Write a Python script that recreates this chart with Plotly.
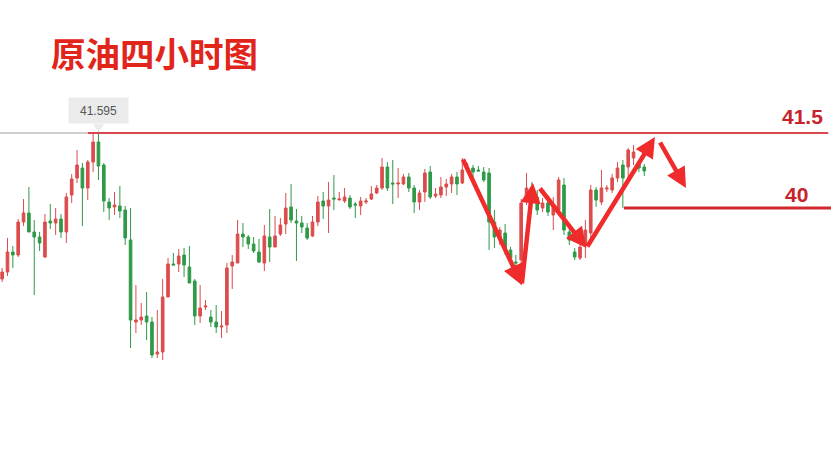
import plotly.graph_objects as go

# ---- data (4-hour crude oil candles) ----
idx = list(range(121))
opens = [38.64, 38.78, 39.18, 39.12, 39.78, 39.96, 39.58, 39.48, 39.08, 39.80,
         39.76, 39.84, 39.58, 40.32, 40.66, 40.86, 40.46, 40.98, 41.38, 40.92,
         40.18, 40.08, 40.10, 40.02, 39.42, 37.78, 37.82, 37.90, 37.78, 37.14,
         37.18, 38.28, 38.94, 38.94, 39.12, 38.88, 38.60, 37.90, 38.08, 37.88,
         37.78, 37.68, 37.72, 38.90, 38.96, 39.54, 39.48, 39.34, 39.18, 38.96,
         39.48, 39.28, 39.54, 39.74, 40.08, 39.80, 39.76, 39.66, 39.50, 39.78,
         40.20, 40.10, 40.26, 40.22, 40.20, 40.26, 40.14, 40.10, 40.18, 40.24,
         40.36, 40.46, 40.88, 40.56, 40.54, 40.54, 40.68, 40.46, 40.18, 40.38,
         40.78, 40.30, 40.32, 40.48, 40.54, 40.68, 40.56, 40.84, 40.86, 40.82,
         40.78, 40.76, 39.78, 39.46, 39.56, 39.22, 38.98, 39.02, 40.22, 40.46,
         40.28, 40.06, 40.16, 39.92, 40.02, 40.52, 39.58, 39.18, 39.06, 39.32,
         39.56, 40.42, 40.18, 40.44, 40.42, 40.66, 40.92, 40.88, 41.06, 40.96,
         40.88]
highs = [38.86, 39.46, 39.30, 39.84, 40.24, 40.48, 39.82, 39.58, 39.94, 40.14,
         40.06, 39.94, 40.36, 40.74, 41.22, 40.96, 41.02, 41.56, 41.595, 40.96,
         40.26, 40.38, 40.50, 40.10, 40.06, 38.52, 38.16, 38.38, 37.88, 38.02,
         38.64, 39.06, 39.16, 39.24, 39.26, 39.30, 38.64, 38.52, 38.22, 38.02,
         38.12, 38.00, 38.96, 39.12, 39.82, 39.76, 39.52, 39.48, 39.44, 39.72,
         40.04, 39.90, 39.86, 40.36, 40.54, 40.04, 39.90, 39.76, 39.90, 40.30,
         40.38, 40.58, 40.72, 40.38, 40.46, 40.32, 40.18, 40.28, 40.26, 40.50,
         40.52, 41.06, 40.98, 41.02, 40.86, 40.74, 40.76, 40.52, 40.42, 40.84,
         40.90, 40.46, 40.68, 40.64, 40.74, 40.78, 41.06, 40.96, 40.92, 40.90,
         40.88, 40.86, 40.02, 39.68, 39.74, 39.28, 39.12, 40.24, 40.76, 40.58,
         40.42, 40.26, 40.32, 40.28, 40.68, 40.66, 39.66, 39.26, 39.42, 39.82,
         40.52, 40.48, 40.82, 40.52, 40.74, 40.98, 41.02, 41.26, 41.32, 41.02,
         40.94]
lows = [38.58, 38.70, 38.86, 39.08, 39.70, 39.58, 38.32, 39.20, 39.06, 39.64,
        39.52, 39.46, 39.36, 40.16, 40.56, 39.70, 40.22, 40.78, 40.62, 39.98,
        39.82, 39.92, 39.86, 39.32, 37.26, 37.56, 37.72, 37.42, 37.06, 37.06,
        37.02, 38.28, 38.92, 38.78, 38.68, 38.56, 37.72, 37.76, 38.02, 37.68,
        37.56, 37.46, 37.56, 38.44, 38.96, 39.28, 39.24, 39.16, 38.96, 38.80,
        38.98, 39.28, 39.50, 39.54, 39.76, 39.00, 39.56, 39.42, 39.48, 39.70,
        39.84, 39.56, 40.02, 40.22, 40.16, 40.04, 39.86, 39.92, 40.14, 40.22,
        40.34, 40.42, 40.40, 40.14, 40.26, 40.52, 40.38, 39.96, 40.02, 40.18,
        40.24, 40.26, 40.26, 40.30, 40.36, 40.32, 40.54, 40.82, 40.68, 40.80,
        40.58, 39.22, 39.26, 39.32, 39.12, 38.98, 38.62, 38.52, 40.12, 40.22,
        39.92, 39.98, 39.90, 39.62, 39.98, 39.52, 39.32, 39.02, 39.02, 39.06,
        39.42, 40.08, 40.12, 40.38, 40.36, 40.58, 40.06, 40.56, 40.92, 40.78,
        40.70]
closes = [38.78, 39.18, 39.12, 39.78, 39.96, 39.58, 39.48, 39.36, 39.78, 39.76,
          39.84, 39.58, 40.28, 40.64, 40.92, 40.46, 40.98, 41.38, 40.90, 40.20,
          40.06, 40.12, 40.00, 39.46, 37.82, 37.82, 37.88, 37.78, 37.12, 37.18,
          38.28, 38.94, 38.92, 39.10, 38.92, 38.56, 37.90, 38.06, 38.10, 37.78,
          37.68, 37.70, 38.86, 38.98, 39.54, 39.48, 39.34, 39.20, 38.98, 39.50,
          39.28, 39.50, 39.72, 40.06, 39.82, 39.76, 39.68, 39.46, 39.78, 40.18,
          40.10, 40.22, 40.24, 40.24, 40.28, 40.08, 40.12, 40.20, 40.20, 40.34,
          40.46, 40.88, 40.46, 40.54, 40.56, 40.68, 40.46, 40.18, 40.36, 40.76,
          40.28, 40.34, 40.48, 40.54, 40.68, 40.54, 40.82, 40.86, 40.78, 40.80,
          40.62, 39.78, 39.48, 39.62, 39.26, 39.06, 38.96, 40.16, 40.46, 40.32,
          40.02, 40.16, 39.98, 40.12, 40.62, 39.62, 39.42, 39.08, 39.28, 39.62,
          40.42, 40.22, 40.46, 40.46, 40.66, 40.86, 40.66, 41.22, 41.18, 40.86,
          40.80]

title_text = "原油四小时图"
peak_label = "41.595"
level_labels = ["41.5", "40"]
resistance = 41.56
support = 40.06

# arrow waypoints (tail -> head) in candle-index / price units
arrows = [
    ((86, 41.06), (97.1, 38.52)),
    ((97.1, 38.52), (99.2, 40.56)),
    ((100.3, 40.48), (109.2, 39.26)),
    ((109.2, 39.26), (122.0, 41.48)),
    ((122.8, 41.40), (127.8, 40.46)),
]

RED = "#dc4c4c"
GREEN = "#2f9a48"
ARROW = "#ef2b2b"

fig = go.Figure()
fig.add_trace(go.Candlestick(
    x=idx, open=opens, high=highs, low=lows, close=closes,
    increasing=dict(line=dict(color=RED, width=1), fillcolor=RED),
    decreasing=dict(line=dict(color=GREEN, width=1), fillcolor=GREEN),
    showlegend=False, hoverinfo="skip",
))

peak_i = highs.index(max(highs))
fig.add_trace(go.Scatter(
    x=[peak_i], y=[highs[peak_i] + 0.09], mode="markers",
    marker=dict(symbol="triangle-down", size=10, color="#ebebeb"),
    showlegend=False, hoverinfo="skip",
))

# horizontal levels
fig.add_shape(type="line", xref="x", yref="y", x0=-1, x1=16,
              y0=resistance, y1=resistance,
              line=dict(color="#a59aa0", width=1))
fig.add_shape(type="line", xref="x", yref="y", x0=16, x1=154.4,
              y0=resistance, y1=resistance,
              line=dict(color="#d9474f", width=2))
fig.add_shape(type="line", xref="x", yref="y", x0=116.2, x1=156,
              y0=support, y1=support,
              line=dict(color="#d02a30", width=3))

annotations = [
    dict(text=title_text, xref="paper", yref="paper", x=0.059, y=0.887,
         xanchor="left", yanchor="middle", showarrow=False,
         font=dict(family="Noto Sans CJK SC", size=34.5, color="#e1251b", weight="bold")),
    dict(text=peak_label, xref="x", yref="y", x=peak_i, y=highs[peak_i],
         xshift=0, yshift=21, showarrow=False, bgcolor="#ebebeb",
         borderpad=5, width=49, height=15,
         font=dict(family="Liberation Sans", size=12, color="#555555")),
    dict(text=level_labels[0], xref="paper", yref="paper", x=0.966, y=0.746,
         xanchor="center", yanchor="middle", showarrow=False,
         font=dict(family="Liberation Sans", size=21, color="#c8232c", weight="bold")),
    dict(text=level_labels[1], xref="paper", yref="paper", x=0.959, y=0.578,
         xanchor="center", yanchor="middle", showarrow=False,
         font=dict(family="Liberation Sans", size=21, color="#c8232c", weight="bold")),
]
for (tx, ty), (hx, hy) in arrows:
    annotations.append(dict(
        x=hx, y=hy, ax=tx, ay=ty, xref="x", yref="y", axref="x", ayref="y",
        text="", showarrow=True, arrowhead=2, arrowsize=0.9, arrowwidth=4.5,
        arrowcolor=ARROW, standoff=0, startstandoff=0,
    ))

fig.update_layout(
    width=831, height=460,
    margin=dict(l=0, r=0, t=0, b=0),
    paper_bgcolor="white", plot_bgcolor="white",
    xaxis=dict(visible=False, range=[-0.4, 154.9], rangeslider=dict(visible=False)),
    yaxis=dict(visible=False, range=[35.02, 44.22]),
    annotations=annotations,
    hovermode=False,
)

fig.write_html("out.html", config={"displayModeBar": False},
               post_script="document.body.style.margin='0px';")
